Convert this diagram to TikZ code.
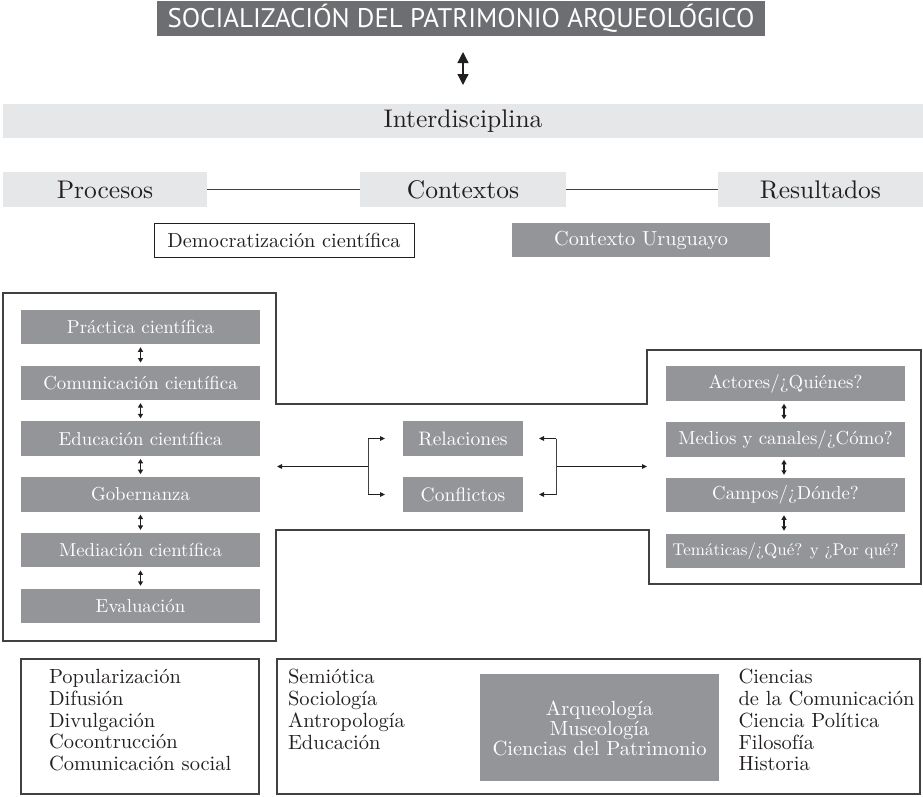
\documentclass[tikz,border=0pt]{standalone}
\usepackage{fontspec}
\usepackage{graphicx}
\setmainfont{lmroman10-regular}[Extension=.otf]
\setsansfont{PT Sans}
\usetikzlibrary{arrows.meta}
\definecolor{darkbox}{HTML}{6D6E71}
\definecolor{midbox}{HTML}{939598}
\definecolor{lightbox}{HTML}{E6E7E8}
\definecolor{ink}{HTML}{231F20}
\definecolor{framec}{HTML}{414042}
\tikzset{
  basenode/.style={inner sep=0pt, outer sep=0pt, text=ink},
  titlebox/.style={basenode, fill=darkbox, text=white, font=\sffamily\fontsize{25}{30}\selectfont},
  lightbig/.style={basenode, fill=lightbox, minimum height=35pt, font=\fontsize{25.5}{28}\selectfont},
  midtext/.style={basenode, fill=midbox, text=white, minimum height=34pt, font=\fontsize{20.3}{22}\selectfont},
  whitetext/.style={basenode, draw=ink, line width=1pt, fill=white, minimum height=34pt, font=\fontsize{20.3}{22}\selectfont},
  stackbox/.style={basenode, fill=midbox, text=white, minimum width=239pt, minimum height=34.5pt, font=\fontsize{18.8}{20}\selectfont},
  relbox/.style={basenode, fill=midbox, text=white, minimum width=120pt, minimum height=35pt, font=\fontsize{19.5}{21}\selectfont},
  framepath/.style={draw=framec, line width=1.3pt},
  listframe/.style={basenode, draw=framec, line width=1.1pt},
  listtext/.style={basenode, align=left, anchor=north west, font=\fontsize{20.5}{21.7}\selectfont},
  conn/.style={draw=framec, line width=1.2pt},
  bigarrow/.style={draw=ink, line width=1.3pt, {Triangle[length=11pt,width=11pt]}-{Triangle[length=11pt,width=11pt]}},
  smallarrow/.style={draw=ink, line width=1.1pt, {Triangle[length=4.5pt,width=5pt]}-{Triangle[length=4.5pt,width=5pt]}},
  sarrow/.style={draw=ink, line width=1pt, -{Triangle[length=5pt,width=4.5pt]}},
}
\begin{document}
\begin{tikzpicture}[x=1pt,y=-1pt]
\useasboundingbox (0,0) rectangle (923,796);

% title
\node[titlebox, minimum width=608pt, minimum height=35pt] (title) at (461,18.5)
  {\resizebox{587pt}{!}{SOCIALIZACIÓN DEL PATRIMONIO ARQUEOLÓGICO}};

% interdisciplina
\node[lightbig, minimum width=920pt, minimum height=34pt] (inter) at (463,121) {Interdisciplina};
\draw[bigarrow, shorten <=16pt, shorten >=19pt] (title.south -| inter.north) -- (inter.north);

% procesos / contextos / resultados
\node[lightbig, minimum width=204pt] (proc) at (105,189.5) {Procesos};
\node[lightbig, minimum width=206pt] (cont) at (463,189.5) {Contextos};
\node[lightbig, minimum width=205pt] (res) at (820.5,189.5) {Resultados};
\draw[conn] (proc) -- (cont);
\draw[conn] (cont) -- (res);

\node[whitetext, minimum width=260pt] (dem) at (284,240) {Democratización científica};
\node[midtext, minimum width=258pt] (cu) at (641,240) {Contexto Uruguayo};

% big frame
\draw[framepath] (3,293) -- (276,293) -- (276,404) -- (647,404) -- (647,350) -- (921,350)
  -- (921,584) -- (649,584) -- (649,530) -- (276,530) -- (276,641) -- (3,641) -- cycle;

% left stack
\node[stackbox] (l1) at (140.5,327) {Práctica científica};
\node[stackbox] (l2) at (140.5,382.8) {Comunicación científica};
\node[stackbox] (l3) at (140.5,438.6) {Educación científica};
\node[stackbox] (l4) at (140.5,494.4) {Gobernanza};
\node[stackbox] (l5) at (140.5,550.2) {Mediación científica};
\node[stackbox] (l6) at (140.5,606) {Evaluación};
\foreach \a/\b in {l1/l2,l2/l3,l3/l4,l4/l5,l5/l6}
  \draw[smallarrow, shorten <=3pt, shorten >=3pt] (\a.south) -- (\b.north);

% right stack
\node[stackbox] (r1) at (785.5,383.5) {Actores/¿Quiénes?};
\node[stackbox] (r2) at (785.5,439.5) {Medios y canales/¿Cómo?};
\node[stackbox] (r3) at (785.5,495) {Campos/¿Dónde?};
\node[stackbox, font=\fontsize{17}{19}\selectfont] (r4) at (785.5,551) {Temáticas/¿Qué? y ¿Por qué?};
\foreach \a/\b in {r1/r2,r2/r3,r3/r4}
  \draw[smallarrow, shorten <=3pt, shorten >=3pt] ([xshift=-1.5pt]\a.south) -- ([xshift=-1.5pt]\b.north);

% center
\node[relbox] (rel) at (463,438.5) {Relaciones};
\node[relbox] (con) at (463,494.5) {Conflictos};
\coordinate (fl) at (277,466.5);
\coordinate (fr) at (647,466.5);
\coordinate (bl) at (368,466.5);
\coordinate (br) at (556,466.5);
\draw[sarrow] (bl) -- (fl);
\draw[conn, line width=1pt] (bl |- rel.west) -- (bl |- con.west);
\draw[sarrow, shorten >=18pt] (bl |- rel.west) -- (rel.west);
\draw[sarrow, shorten >=18pt] (bl |- con.west) -- (con.west);
\draw[sarrow] (br) -- (fr);
\draw[conn, line width=1pt] (br |- rel.east) -- (br |- con.east);
\draw[sarrow, shorten >=16pt] (br |- rel.east) -- (rel.east);
\draw[sarrow, shorten >=16pt] (br |- con.east) -- (con.east);

% bottom boxes
\node[listframe, minimum width=238pt, minimum height=135pt] (lbox) at (140,726.5) {};
\node[listtext] (ltext) at (49,669.5) {Popularización\\Difusión\\Divulgación\\Cocontrucción\\Comunicación social};

\node[listframe, minimum width=643pt, minimum height=135pt] (rbox) at (598.5,726.5) {};
\node[listtext] (mtext) at (288,669.5) {Semiótica\\Sociología\\Antropología\\Educación};
\node[basenode, fill=midbox, text=white, minimum width=239pt, minimum height=107pt] (gbox) at (599.5,727.5) {};
\node[basenode, text=white, align=center, font=\fontsize{20.5}{20}\selectfont] (gtext) at (599.5,728) {Arqueología\\Museología\\Ciencias del Patrimonio};
\node[listtext] (rtext) at (738.5,669.5) {Ciencias\\de la Comunicación\\Ciencia Política\\Filosofía\\Historia};
\end{tikzpicture}
\end{document}
